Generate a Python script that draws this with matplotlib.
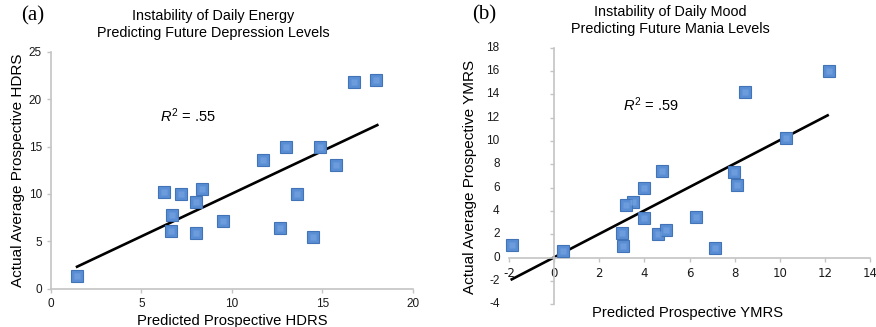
import matplotlib
matplotlib.use("Agg")
import matplotlib.pyplot as plt

plt.rcParams["mathtext.fontset"] = "custom"
plt.rcParams["mathtext.rm"] = "Liberation Sans"
plt.rcParams["mathtext.it"] = "Liberation Sans:italic"
plt.rcParams["axes.unicode_minus"] = False

# Panel (a) data
a_pred = [1.44, 6.22, 7.18, 8.33, 8.04, 6.66, 6.61, 7.99, 9.51, 11.70,
          12.97, 14.88, 15.73, 13.62, 12.64, 14.50, 16.72, 17.96]
a_actual = [1.34, 10.16, 10.02, 10.48, 9.14, 7.77, 6.12, 5.87, 7.17, 13.57,
            14.98, 14.91, 13.08, 10.02, 6.43, 5.45, 21.80, 21.98]
a_fit_x = [1.44, 18.03]
a_fit_y = [2.32, 17.26]
a_xticks = [0, 5, 10, 15, 20]
a_yticks = [0, 5, 10, 15, 20, 25]

# Panel (b) data
b_pred = [12.19, 8.44, 10.28, 7.99, 8.12, 4.76, 3.99, 3.51, 3.19, 3.99,
          6.28, 3.01, 3.07, 4.59, 4.96, 7.12, 0.38, -1.85]
b_actual = [16.0, 14.17, 10.29, 7.34, 6.23, 7.43, 5.97, 4.80, 4.51, 3.40,
            3.46, 2.09, 0.97, 2.03, 2.40, 0.86, 0.57, 1.09]
b_fit_x = [-1.88, 12.12]
b_fit_y = [-1.86, 12.20]
b_xticks = [-2, 0, 2, 4, 6, 8, 10, 12, 14]
b_yticks = [-4, -2, 0, 2, 4, 6, 8, 10, 12, 14, 16, 18]

SANS = ["Liberation Sans", "DejaVu Sans"]
SERIF = ["Liberation Serif", "DejaVu Serif"]
AXC = "#c4c4c4"

fig = plt.figure(figsize=(8.76, 3.27), dpi=100)


def markers(ax, x, y):
    ax.plot(x, y, ls="none", marker="s", ms=8.4, mfc="#5a8ed4", mec="#4273b6",
            mew=0.8, zorder=3, clip_on=False)
    ax.plot(x, y, ls="none", marker="s", ms=4.5, mfc="#7aa7e4", mec="none",
            zorder=4, alpha=0.6, clip_on=False)


def style(ax):
    for s in ["top", "right"]:
        ax.spines[s].set_visible(False)
    for s in ["left", "bottom"]:
        ax.spines[s].set_color(AXC)
        ax.spines[s].set_linewidth(1.2)
    ax.tick_params(colors=AXC, labelcolor="#1a1a1a", length=3, width=1.0,
                   labelsize=8.5, direction="out")
    for lab in ax.get_xticklabels() + ax.get_yticklabels():
        lab.set_family(SANS)


# Panel (a)
ax1 = fig.add_axes([0.0582, 0.1171, 0.4132, 0.7248])
ax1.set_xlim(0, 20)
ax1.set_ylim(0, 25)
ax1.set_xticks(a_xticks)
ax1.set_yticks(a_yticks)
style(ax1)
ax1.plot(a_fit_x, a_fit_y, color="black", lw=1.9, zorder=2)
markers(ax1, a_pred, a_actual)
ax1.text(6.0, 18.3, r"$\mathit{R}^2$ = .55", fontsize=10.5, family=SANS,
         ha="left", va="center")
ax1.set_xlabel("Predicted Prospective HDRS", fontsize=10.6, family=SANS,
               labelpad=3)
ax1.set_ylabel("Actual Average Prospective HDRS", fontsize=11, family=SANS,
               labelpad=3)
fig.text(213 / 876, 1 - 24.5 / 327,
         "Instability of Daily Energy\nPredicting Future Depression Levels",
         ha="center", va="center", fontsize=10.4, family=SANS, linespacing=1.2)
fig.text(33 / 876, 1 - 16 / 327, "(a)", ha="center", va="center", fontsize=15,
         family=SERIF)

# Panel (b)
ax2 = fig.add_axes([0.5811, 0.0694, 0.4121, 0.7847])
ax2.set_xlim(-2, 14)
ax2.set_ylim(-4, 18)
ax2.set_xticks(b_xticks)
ax2.set_yticks(b_yticks)
style(ax2)
ax2.spines["left"].set_position(("data", 0))
ax2.spines["bottom"].set_position(("data", 0))
ax2.tick_params(axis="y", labelleft=False)
for yv in b_yticks:
    ax2.text(-0.026, (yv + 4) / 22, str(yv), transform=ax2.transAxes,
             ha="right", va="center", fontsize=8.5, family=SANS, color="#1a1a1a")
ax2.plot(b_fit_x, b_fit_y, color="black", lw=1.9, zorder=2)
markers(ax2, b_pred, b_actual)
ax2.text(3.05, 13.1, r"$\mathit{R}^2$ = .59", fontsize=10.5, family=SANS,
         ha="left", va="center")
fig.text(688 / 876, 1 - 313 / 327, "Predicted Prospective YMRS", ha="center",
         va="center", fontsize=10.6, family=SANS)
fig.text(470 / 876, 1 - 177 / 327, "Actual Average Prospective YMRS",
         ha="center", va="center", rotation=90, fontsize=11, family=SANS)
fig.text(670 / 876, 1 - 20.5 / 327,
         "Instability of Daily Mood\nPredicting Future Mania Levels",
         ha="center", va="center", fontsize=10.4, family=SANS, linespacing=1.2)
fig.text(484 / 876, 1 - 15 / 327, "(b)", ha="center", va="center", fontsize=15,
         family=SERIF)

fig.savefig("out.png", dpi=100)
